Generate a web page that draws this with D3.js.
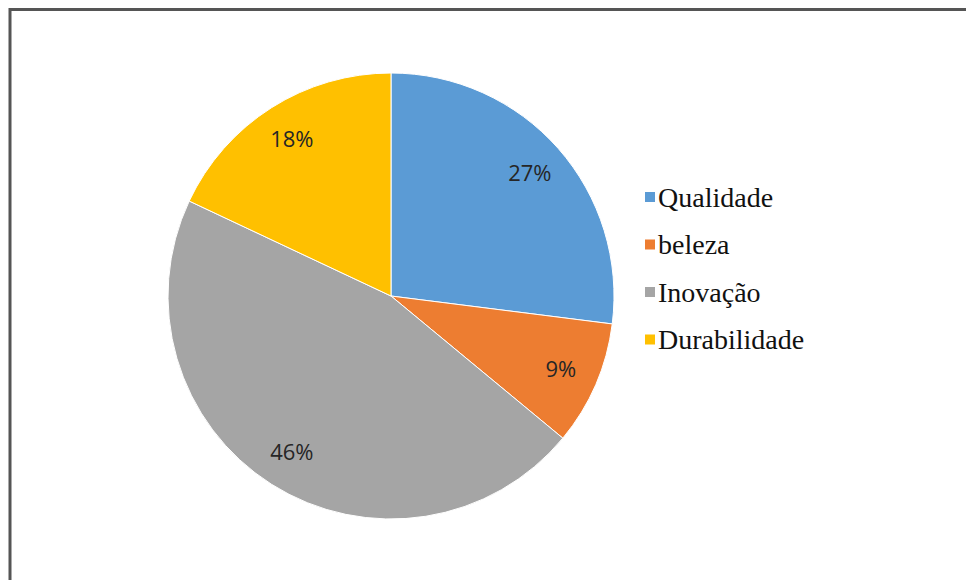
<!DOCTYPE html>
<html>
<head>
<meta charset="utf-8">
<script src="https://cdn.jsdelivr.net/npm/d3@7"></script>
<style>
  html, body { margin: 0; padding: 0; background: #ffffff; }
  svg { display: block; }
  .legend-text { font-family: "Liberation Serif", "DejaVu Serif", serif; }
  .pie-label { font-family: "Open Sans", "Noto Sans", sans-serif; }
</style>
</head>
<body>
<div id="chart"></div>
<script>
// Data
const categories = ["Qualidade", "beleza", "Inovação", "Durabilidade"];
const values = [27, 9, 46, 18];
const colors = ["#5b9bd5", "#ed7d31", "#a5a5a5", "#ffc000"];

// Constants
const width = 966;
const height = 580;
const cx = 391;
const cy = 296;
const radius = 223;

const svg = d3
  .select("#chart")
  .append("svg")
  .attr("width", width)
  .attr("height", height);

// frame (runs off the right and bottom of the picture)
svg
  .append("rect")
  .attr("x", 10)
  .attr("y", 9.5)
  .attr("width", 1000)
  .attr("height", 700)
  .attr("fill", "none")
  .attr("stroke", "#555555")
  .attr("stroke-width", 3);

//-----------------------------PIE-----------------------------//
const pie = d3
  .pie()
  .sort(null)
  .value(function (d) {
    return d.value;
  });

const rows = categories.map(function (c, i) {
  return { name: c, value: values[i], color: colors[i] };
});

const arc = d3.arc().innerRadius(0).outerRadius(radius);
const labelArc = d3.arc().innerRadius(radius * 0.83).outerRadius(radius * 0.83);

const g = svg.append("g").attr("transform", `translate(${cx}, ${cy})`);

const slices = g.selectAll(".slice").data(pie(rows)).enter().append("g");

slices
  .append("path")
  .attr("d", arc)
  .attr("fill", function (d) {
    return d.data.color;
  })
  .attr("stroke", "#ffffff")
  .attr("stroke-width", 1);

slices
  .append("text")
  .attr("class", "pie-label")
  .attr("transform", function (d) {
    const p = labelArc.centroid(d);
    return `translate(${p[0]}, ${p[1]})`;
  })
  .attr("text-anchor", "middle")
  .attr("dy", "0.35em")
  .style("font-size", "22px")
  .style("fill", "#262626")
  .text(function (d) {
    return d.data.value + "%";
  });

//-----------------------------LEGEND-----------------------------//
const legend = svg
  .append("g")
  .attr("transform", "translate(645, 197)");

const items = legend
  .selectAll(".item")
  .data(rows)
  .enter()
  .append("g")
  .attr("transform", function (d, i) {
    return `translate(0, ${i * 47.5})`;
  });

items
  .append("rect")
  .attr("x", 0)
  .attr("y", -5)
  .attr("width", 10)
  .attr("height", 10)
  .attr("fill", function (d) {
    return d.color;
  });

items
  .append("text")
  .attr("class", "legend-text")
  .attr("x", 13)
  .attr("dy", "0.35em")
  .style("font-size", "28px")
  .style("fill", "#111111")
  .text(function (d) {
    return d.name;
  });
</script>
</body>
</html>
